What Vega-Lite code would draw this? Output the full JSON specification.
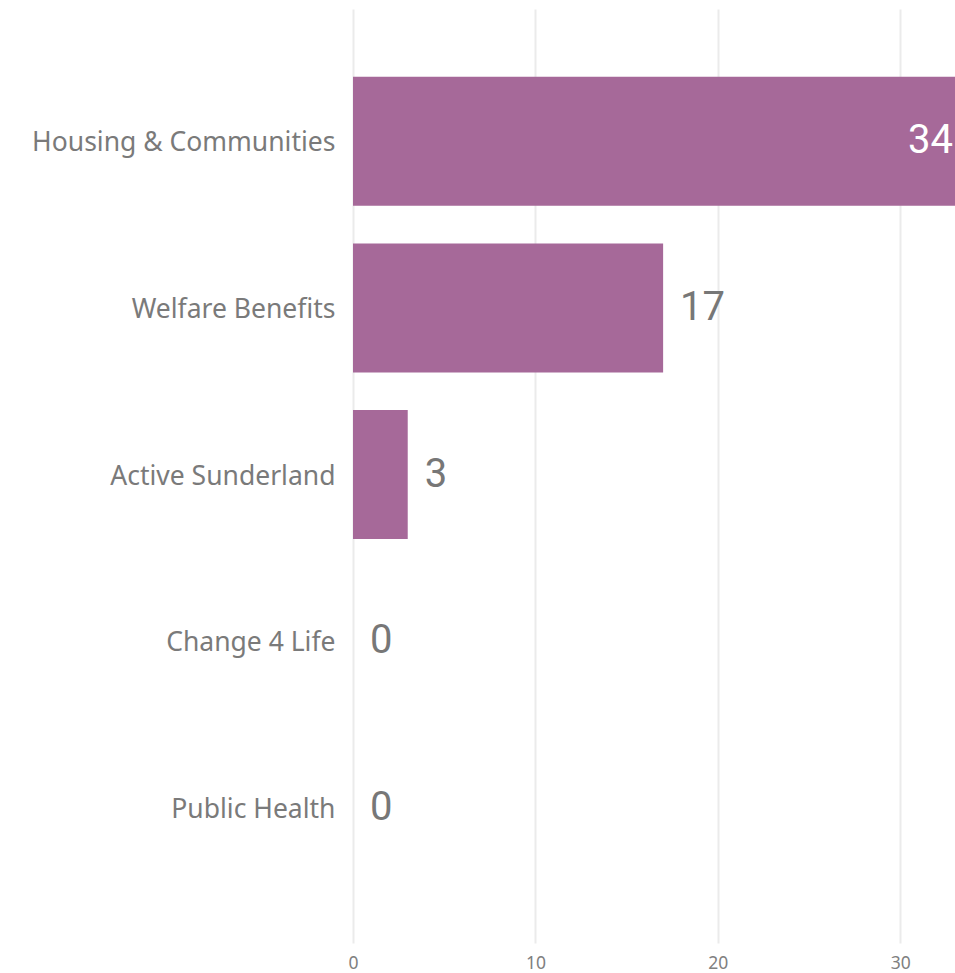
{
  "$schema": "https://vega.github.io/schema/vega-lite/v6.json",
  "width": 602,
  "height": 934,
  "autosize": "none",
  "padding": {"left": 353, "top": 9, "right": 0, "bottom": 30},
  "background": "white",
  "config": {"view": {"stroke": null}},
  "data": {
    "values": [
      {"category": "Housing & Communities", "value": 34},
      {"category": "Welfare Benefits", "value": 17},
      {"category": "Active Sunderland", "value": 3},
      {"category": "Change 4 Life", "value": 0},
      {"category": "Public Health", "value": 0}
    ]
  },
  "encoding": {
    "y": {
      "field": "category",
      "type": "nominal",
      "sort": null,
      "scale": {"paddingInner": 0.226, "paddingOuter": 0.415, "align": 0.49},
      "axis": {
        "title": null,
        "ticks": false,
        "domain": false,
        "labelFont": "Noto Sans",
        "labelFontSize": 26.5,
        "labelColor": "#7A7A7A",
        "labelPadding": 18,
        "labelOffset": 2,
        "labelLimit": 400
      }
    },
    "x": {
      "field": "value",
      "type": "quantitative",
      "scale": {"domain": [0, 33], "clamp": true, "nice": false, "zero": true},
      "axis": {
        "title": null,
        "values": [0, 10, 20, 30],
        "ticks": false,
        "domain": false,
        "grid": true,
        "gridColor": "#EBEBEB",
        "gridWidth": 2,
        "labelFlush": false,
        "labelFont": "Noto Sans",
        "labelFontSize": 17.5,
        "labelColor": "#808080",
        "labelPadding": 11
      }
    }
  },
  "layer": [
    {"mark": {"type": "bar", "color": "#A66999"}},
    {
      "transform": [{"filter": "datum.value < 30"}],
      "mark": {"type": "text", "align": "left", "baseline": "middle", "dx": 17, "font": "Roboto", "fontSize": 40, "color": "#777777"},
      "encoding": {"text": {"field": "value", "type": "quantitative"}}
    },
    {
      "transform": [{"filter": "datum.value >= 30"}],
      "mark": {"type": "text", "align": "right", "baseline": "middle", "dx": -2, "font": "Roboto", "fontSize": 40, "color": "white"},
      "encoding": {"text": {"field": "value", "type": "quantitative"}}
    }
  ]
}
